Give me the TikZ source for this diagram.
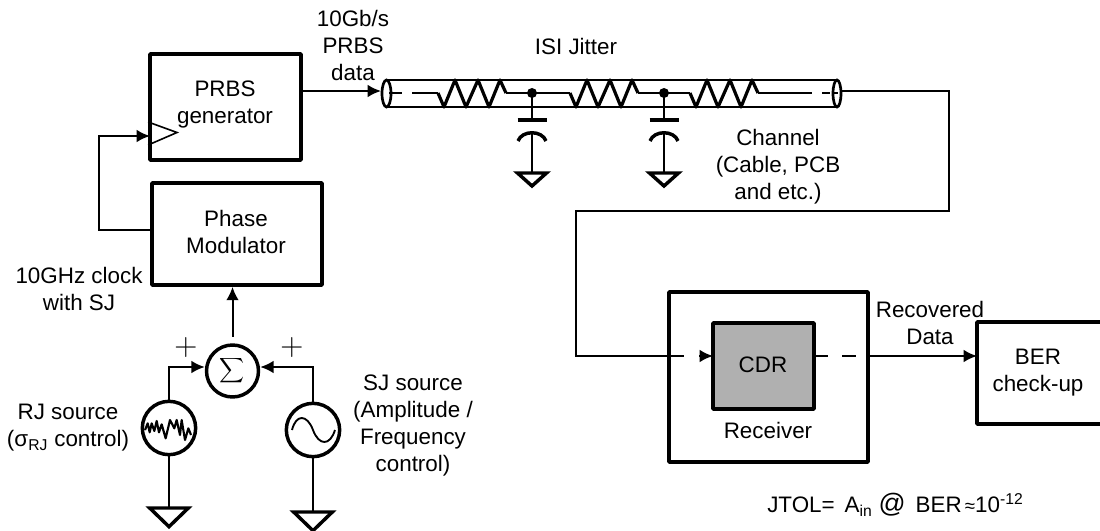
\documentclass[tikz,border=0pt]{standalone}
\usepackage{fix-cm}
\usepackage{fontspec}
\setmainfont{Liberation Sans}
\usetikzlibrary{arrows.meta}
\tikzset{
  blockbox/.style={draw,line width=2.8pt,rounded corners=0.5pt,inner sep=0pt},
  txt/.style={align=center,font=\fontsize{16.8}{20.25}\selectfont,inner sep=0pt},
  wire/.style={line width=1.5pt},
  arrowwire/.style={wire,-{Latex[length=10pt,width=9.5pt]}},
  srccircle/.style={circle,draw,line width=2.6pt,inner sep=0pt,minimum size=40pt}
}
\begin{document}
\begin{tikzpicture}[x=0.75pt,y=-0.75pt]
  \clip (0,0) rectangle (1100,531);
  % Blocks
  \node[blockbox,minimum width=113.25pt,minimum height=79.5pt] (prbs) at (225.5,107) {};
  \node[blockbox,minimum width=127.5pt,minimum height=76.5pt] (phase) at (237,234) {};
  \node[blockbox,minimum width=149.25pt,minimum height=127.5pt] (recv) at (768.5,377) {};
  \node[blockbox,minimum width=99.75pt,minimum height=76.5pt] (ber) at (1043.5,373) {};
  \node[txt] (prbslabel) at (225,105) {PRBS\\generator};
  \node[txt] (phaselabel) at (236,232) {Phase\\Modulator};
  \node[txt] (recvlabel) at (768,430) {Receiver};
  \node[txt] (berlabel) at (1038,373) {BER\\check-up};
  % Clock input of the generator
  \draw[line width=1.2pt] (prbs.west |- 0,122) -- (177,132.5) -- (prbs.west |- 0,145);
  % Cable
  \draw[line width=2pt] (386.5,80) -- (837,80) (386.5,107) -- (837,107);
  \draw[line width=2pt] (386.5,93.5) ellipse (4.5 and 13.5);
  \draw[line width=2pt] (837,93.5) ellipse (4 and 13.5);
  \draw[line width=1.6pt] (389,93) -- (402,93) (412,93) -- (438,93);
  \foreach \rx in {438,570,690}{
    \draw[line width=2.4pt,line join=round] (\rx,93) -- ++(6,14) -- ++(11,-27) -- ++(11,27) -- ++(12,-27)
      -- ++(11,27) -- ++(11,-27) -- ++(6,13);
  }
  \draw[line width=1.6pt] (506,93) -- (570,93) (638,93) -- (690,93) (758,93) -- (812,93);
  \draw[line width=1.6pt] (822,93) -- (830,93) (833,93) -- (838,93);
  % Shunt capacitors
  \foreach \cx in {532,664}{
    \fill (\cx,93) circle (5);
    \draw[line width=1.6pt] (\cx,93) -- (\cx,120);
    \draw[line width=3pt] (\cx-14.5,120) -- (\cx+14.5,120);
    \draw[line width=2.6pt] (\cx-14,141) .. controls (\cx-10,130) and (\cx+10,130) .. (\cx+14,141);
    \draw[line width=1.6pt] (\cx,134) -- (\cx,173);
    \draw[line width=2.6pt,line join=miter] (\cx-14.5,173) -- (\cx+14.5,173) -- (\cx,186) -- cycle;
  }
  % Sources
  \node[srccircle,minimum size=39pt] (sum) at (232.5,371) {};
  \node[txt] (sumlabel) at (sum) {\scalebox{1.3}{$\displaystyle\sum$}};
  \node[srccircle] (rj) at (169,428) {};
  \node[srccircle] (sj) at (313,430) {};
  \begin{scope}[shift={(135,395)},x=0.25pt,y=-0.25pt]
    \draw[line width=1.6pt,line join=round] (30,105) -- (38,85) -- (44,112) -- (50,85) -- (58,108) -- (65,78)
      -- (72,112) -- (80,88) -- (92,130) -- (105,75) -- (118,100) -- (125,75) -- (135,120)
      -- (140,75) -- (150,135) -- (160,100) -- (168,120);
  \end{scope}
  \draw[line width=1.4pt] (292,430) .. controls (296,414) and (307,414) .. (313,430)
    .. controls (319,446) and (330,446) .. (335,430);
  \node[txt,font=\fontsize{24}{24}\selectfont] (plusrj) at (186,348) {$+$};
  \node[txt,font=\fontsize{24}{24}\selectfont] (plussj) at (292,348) {$+$};
  % Ground symbols
  \coordinate (rjgnd) at (169,508);
  \coordinate (sjgnd) at (313,512);
  \draw[wire] (rj.south) -- (rjgnd);
  \draw[wire] (sj.south) -- (sjgnd);
  \foreach \gnd in {rjgnd,sjgnd}{
    \draw[line width=2.6pt,line join=miter] ([xshift=-14.5pt]\gnd) -- ([xshift=14.5pt]\gnd) -- ([yshift=-14pt]\gnd) -- cycle;
  }
  % Connections
  \coordinate (clkout) at (151,230);
  \coordinate (clkbend) at (99,230);
  \coordinate (clkin) at (150,136);
  \coordinate (prbsout) at (301,91);
  \coordinate (tubein) at (381,91);
  \coordinate (tubeout) at (841,91);
  \coordinate (bendb) at (949,211);
  \coordinate (rxin) at (576,356);
  \coordinate (recvin) at (669,356);
  \coordinate (cdrin) at (713,356);
  \coordinate (cdrout) at (814,356);
  \coordinate (recvout) at (868,356);
  \coordinate (berin) at (977,356);
  \draw[arrowwire] (clkout) -- (clkbend) |- (clkin);
  \draw[arrowwire] (prbsout) -- (tubein);
  \draw[arrowwire,shorten <=5pt] (sum.north) -- (sum.north |- phase.south);
  \draw[arrowwire] (rj.north) |- ([yshift=3pt]sum.west);
  \draw[arrowwire] (sj.north) |- ([yshift=3pt]sum.east);
  \draw[wire] (tubeout) -| (bendb) -| (rxin) -- (recvin);
  \draw[arrowwire,dash pattern=on 11.25pt off 11.25pt] (recvin) -- (cdrin);
  \node[blockbox,fill=black!31,minimum width=75.75pt,minimum height=64.5pt] (cdr) at (763.5,366) {};
  \node[txt] (cdrlabel) at (763,365) {CDR};
  \draw[wire,dash pattern=on 10.5pt off 10.5pt] (cdrout) -- (recvout);
  \draw[arrowwire] (recvout) -- (berin);
  % Labels
  \node[txt] (ratelabel) at (353,45) {10Gb/s\\PRBS\\data};
  \node[txt] (isilabel) at (576,46) {ISI Jitter};
  \node[txt] (chanlabel) at (778,167) {Channel\\(Cable, PCB\\and etc.)};
  \node[txt] (clklabel) at (79,289) {10GHz clock\\with SJ};
  \node[txt] (rjlabel) at (68,428) {RJ source\\(σ\textsubscript{RJ} control)};
  \node[txt] (sjlabel) at (413,425) {SJ source\\(Amplitude /\\Frequency\\control)};
  \node[txt] (datalabel) at (930,323) {Recovered\\Data};
  \node[txt,anchor=west] (jtollabel) at (767,505) {JTOL=\ \,A\textsubscript{in} {\fontsize{20}{20}\selectfont @}\ \,BER{\fontsize{14}{20}\selectfont\,≈}10\textsuperscript{-12}};
\end{tikzpicture}
\end{document}
